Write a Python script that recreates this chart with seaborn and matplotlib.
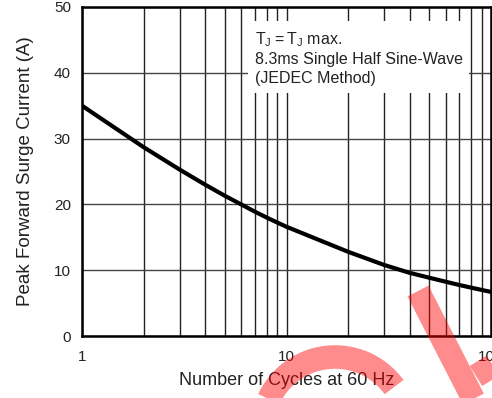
import numpy as np
import pandas as pd
import seaborn as sns
import matplotlib.pyplot as plt
from matplotlib.lines import Line2D

# Curve (log x axis)
cycles = [1, 2, 3, 4, 5, 6, 7, 8, 9, 10, 20, 30, 40, 50, 60, 70, 80, 90, 100]
surge_current = [35.0, 28.7, 25.3, 23.0, 21.3, 20.0, 18.9, 18.0, 17.25, 16.6,
                 12.8, 10.8, 9.6, 8.85, 8.25, 7.75, 7.35, 7.0, 6.7]
x_ticks = [1, 10, 100]
y_ticks = [0, 10, 20, 30, 40, 50]
note_lines = [r"$\mathregular{T_J = T_J}$ max.",
              "8.3ms Single Half Sine-Wave",
              "(JEDEC Method)"]

df = pd.DataFrame({"cycles": cycles, "current": surge_current})

sns.set_theme(style="white")
plt.rcParams["font.family"] = ["Liberation Sans", "DejaVu Sans"]
plt.rcParams["mathtext.fontset"] = "custom"
plt.rcParams["mathtext.rm"] = "Liberation Sans"

W, H = 492, 398
fig = plt.figure(figsize=(W / 100, H / 100), dpi=100)
ax = fig.add_axes([82 / W, (H - 336) / H, (491 - 82) / W, (336 - 7) / H])

sns.lineplot(data=df, x="cycles", y="current", ax=ax, color="black",
             linewidth=3.0, zorder=5, solid_joinstyle="round")

ax.set_xscale("log")
ax.set_xlim(1, 100)
ax.set_ylim(0, 50)
ax.set_xticks(x_ticks)
ax.set_xticklabels([str(t) for t in x_ticks])
ax.set_yticks(y_ticks)
ax.xaxis.set_minor_formatter(plt.NullFormatter())
ax.tick_params(axis="both", which="both", length=0, labelsize=11,
               labelcolor="#222222")
ax.tick_params(axis="x", pad=10)
ax.tick_params(axis="y", pad=8)

ax.grid(True, which="both", axis="x", color="#222222", linewidth=1.0)
ax.grid(True, which="major", axis="y", color="#444444", linewidth=1.0)
ax.set_axisbelow(True)
for s in ax.spines.values():
    s.set_color("black")
    s.set_linewidth(1.8)

ax.set_xlabel("Number of Cycles at 60 Hz", fontsize=13, color="#222222",
              labelpad=6)
ax.set_ylabel("Peak Forward Surge Current (A)", fontsize=13.5, color="#222222",
              labelpad=14)

ax.text(0.422, 0.93, "\n".join(note_lines), transform=ax.transAxes,
        fontsize=11.5, color="#222222", va="top", ha="left", linespacing=1.3,
        zorder=6,
        bbox=dict(facecolor="white", edgecolor="none", pad=5))

# red watermark strokes overlaid on the picture
def fx(px):
    return px / W

def fy(py):
    return (H - py) / H

t = np.linspace(np.pi * 0.93, np.pi * 0.2, 60)
arc_x = 335 + 73 * np.cos(t)
arc_y = 430 - 73 * np.sin(t)
fig.add_artist(Line2D(fx(arc_x), fy(arc_y), color="red", alpha=0.45,
                      linewidth=17, solid_capstyle="butt",
                      transform=fig.transFigure))
fig.add_artist(Line2D([fx(418), fx(480)], [fy(291), fy(412)], color="red",
                      alpha=0.45, linewidth=17, solid_capstyle="butt",
                      transform=fig.transFigure))
fig.add_artist(Line2D([fx(476), fx(505)], [fy(376), fy(358)], color="red",
                      alpha=0.45, linewidth=17, solid_capstyle="butt",
                      transform=fig.transFigure))

fig.savefig("out.png", dpi=100)
